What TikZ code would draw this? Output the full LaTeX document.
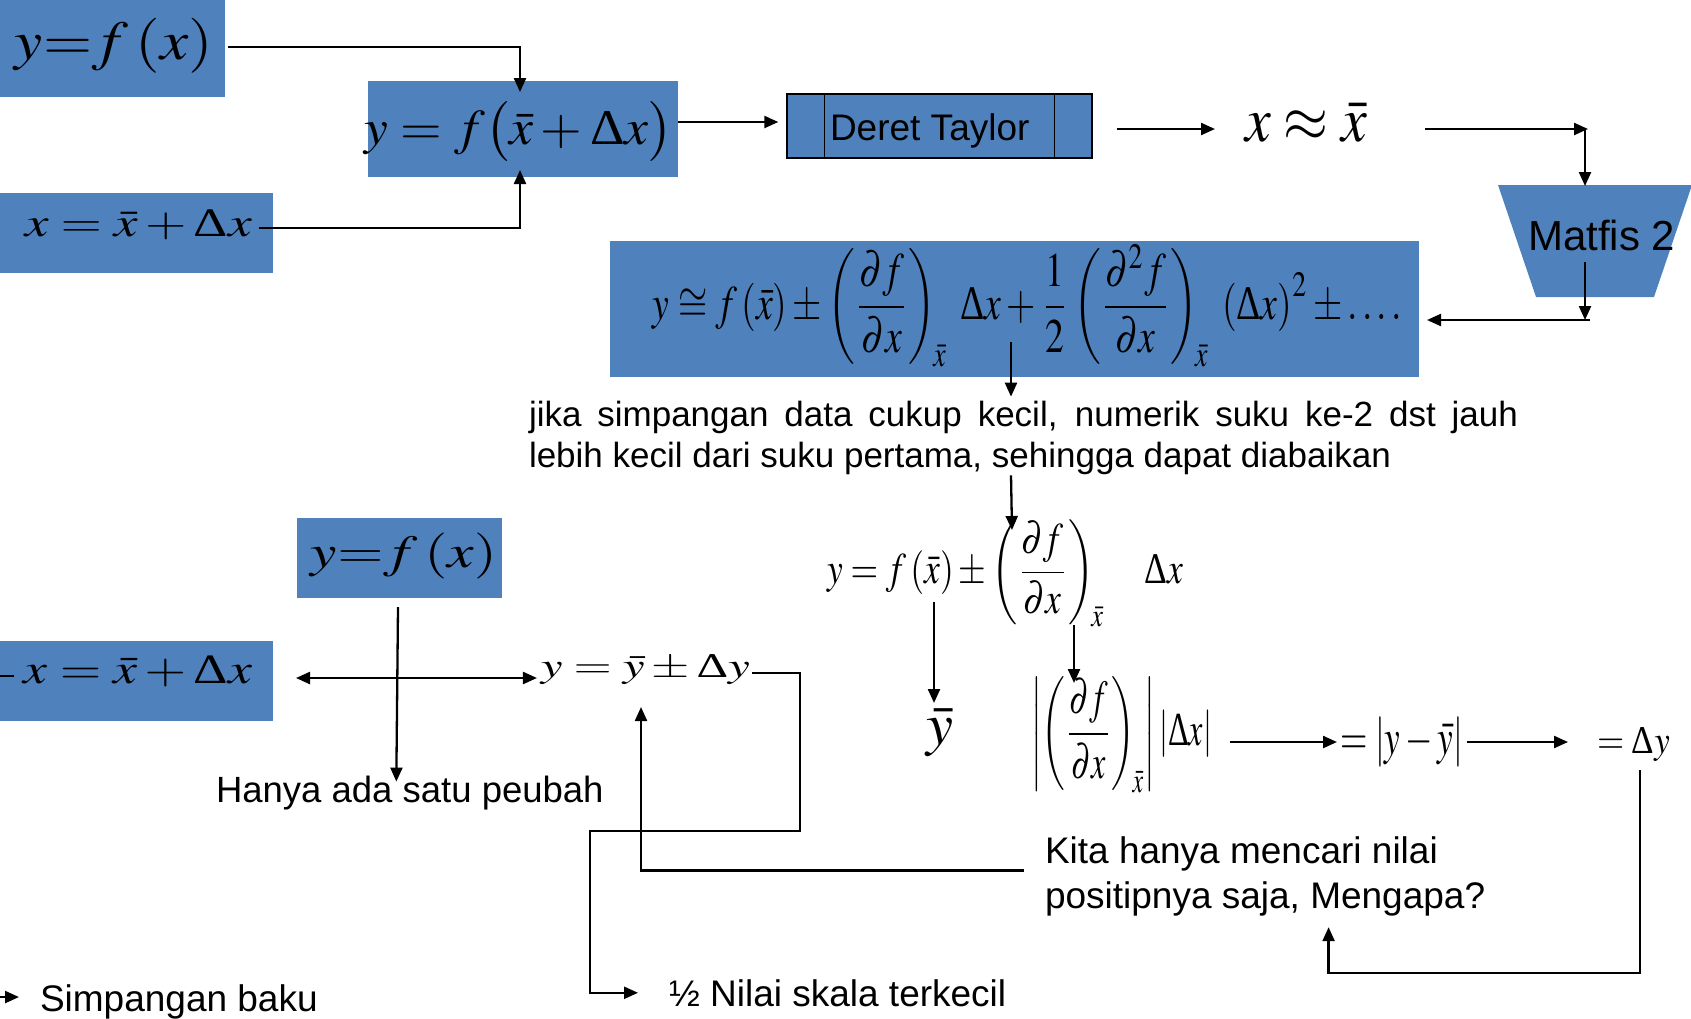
\documentclass[tikz,border=0pt]{standalone}
\usepackage{mathptmx}
\usepackage[no-math]{fontspec}
\setmainfont{Liberation Sans}
\newfontfamily\serifgr{Liberation Serif}
\usepackage{graphicx}
\usetikzlibrary{arrows.meta,calc}
\definecolor{boxblue}{RGB}{79,129,189}
% formula scaled to a given width and total height (in pt)
\newcommand{\eqfit}[3]{\resizebox*{#1pt}{#2pt}{$\displaystyle #3$}}
% a light upright capital delta
\newcommand{\Dlt}{\mathord{\mbox{\serifgr Δ}}}
\begin{document}
\begin{tikzpicture}[x=1pt,y=-1pt,
  bluebox/.style={fill=boxblue,draw=none,inner sep=0pt,outer sep=0pt},
  eq/.style={inner sep=0pt,outer sep=0pt},
  lbl/.style={inner sep=0pt,outer sep=0pt,anchor=base west,font=\fontsize{37}{45}\selectfont},
  conn/.style={line width=2.3pt,-{Triangle[length=14pt,width=12pt]}},
  conntwo/.style={line width=2.3pt,{Triangle[length=14pt,width=12pt]}-{Triangle[length=14pt,width=12pt]}},
  wire/.style={line width=2.3pt},
]
\useasboundingbox (0,0) rectangle (1691,1018);

% ---- blue boxes ----
\node[bluebox,minimum width=225pt,minimum height=97pt] (boxA) at (112.5,48.5) {};
\node[bluebox,minimum width=310pt,minimum height=96pt] (boxB) at (523,129) {};
\node[bluebox,minimum width=273pt,minimum height=80pt] (boxC) at (136.5,233) {};
\node[bluebox,minimum width=809pt,minimum height=136pt] (boxD) at (1014.5,309) {};
\node[bluebox,minimum width=205pt,minimum height=80pt] (boxF) at (399.5,558) {};
\node[bluebox,minimum width=273pt,minimum height=80pt] (boxG) at (136.5,681) {};

% Deret Taylor (predefined process)
\node[fill=boxblue,draw=black,line width=1.4pt,inner sep=0pt,minimum width=305pt,minimum height=64pt] (dt) at (939.5,126) {};
\draw[line width=1.4pt] ([xshift=38pt]dt.north west) -- ([xshift=38pt]dt.south west);
\draw[line width=1.4pt] ([xshift=-38pt]dt.north east) -- ([xshift=-38pt]dt.south east);
\node[lbl,font=\fontsize{37}{44}\selectfont] (dtlabel) at (830,140) {Deret Taylor};

% Matfis 2 (trapezium)
\fill[boxblue] (1498,185) -- (1692,185) -- (1654,297) -- (1536,297) -- cycle;
\node[lbl,font=\fontsize{42}{50}\selectfont] (matfis) at (1528,250) {Matfis 2};
\coordinate (turnA) at (1588,129);
\coordinate (mtop) at (1585,186);
\coordinate (mbot) at (1585,262);
\coordinate (turnB) at (1585,320);

% ---- formulas ----
\node[eq] (eqA) at (114,45.5) {\eqfit{198}{55}{y{=}f\,(x)}};
\node[eq] (eqB) at (519,132) {\eqfit{308}{60}{y = f\bigl(\bar{x} + \Dlt x\bigr)}};
\node[eq] (eqC) at (138.5,225) {\eqfit{227}{30}{x = \bar{x} + \Dlt x}};
\node[eq] (approx) at (1306,122.5) {\eqfit{122}{39}{x \approx \bar{x}}};
\node[eq] (eqD) at (1027.5,306) {\eqfit{749}{122}{y \cong f\left(\bar{x}\right)\pm\left(\frac{\partial f}{\partial x}\right)_{\!\bar{x}}\;\Dlt x+\frac{1}{2}\left(\frac{\partial^{2} f}{\partial x}\right)_{\!\bar{x}}\;\left(\Dlt x\right)^{2}\pm\ldots.}};
\node[eq] (eqE) at (1005,573.5) {\eqfit{356}{107}{y = f\left(\bar{x}\right) \pm \left(\frac{\partial f}{\partial x}\right)_{\!\bar{x}}\quad \Dlt x}};
\node[eq] (ybar) at (939.5,733) {\eqfit{27}{48}{\bar{y}}};
\node[eq] (abs) at (1121.5,735) {\eqfit{181}{116}{\left|\left(\frac{\partial f}{\partial x}\right)_{\!\bar{x}}\right|\left|\Dlt x\right|}};
\node[eq] (absY) at (1401.5,742) {\eqfit{123}{50}{=\left|y-\bar{y}\right|}};
\node[eq] (dy) at (1633.5,745) {\eqfit{73}{34}{=\Dlt y}};
\node[eq] (yb) at (645.5,670) {\eqfit{209}{30}{y = \bar{y} \pm \Dlt y}};
\node[eq] (eqF) at (404,556) {\eqfit{186}{46}{y{=}f\,(x)}};
\node[eq] (eqG) at (138,671.5) {\eqfit{228}{31}{x = \bar{x} + \Dlt x}};

% ---- texts ----
\node[lbl,font=\fontsize{35}{41}\selectfont,align=left] (jika) at (529,467)
  {\makebox[989pt][s]{jika simpangan data cukup kecil, numerik suku ke-2 dst jauh}\\lebih kecil dari suku pertama, sehingga dapat diabaikan};
\node[lbl,font=\fontsize{36.5}{44}\selectfont] (hanya) at (216,802) {Hanya ada satu peubah};
\node[lbl,align=left] (kita) at (1045,908.5) {Kita hanya mencari nilai\\positipnya saja, Mengapa?};
\node[lbl] (half) at (669,1006) {½ Nilai skala terkecil};
\node[lbl] (simp) at (40,1011) {Simpangan baku};

% ---- connectors ----
\draw[conn] ([xshift=3pt,yshift=1.5pt]boxA.east) -| ([xshift=-3pt,yshift=-11pt]boxB.north);
\draw[conn] ([xshift=7pt,yshift=-3pt]eqC.east) -| ([xshift=-3pt,yshift=7pt]boxB.south);
\draw[conn] ([yshift=7pt]boxB.east) -- ([xshift=-8pt,yshift=4pt]dt.west);
\draw[conn] ([xshift=24pt,yshift=-3pt]dt.east) -- ([xshift=-30pt,yshift=-6.5pt]approx.west);
\draw[conn] ([xshift=58pt,yshift=-6.5pt]approx.east) -- (turnA);
\draw[conn] ([xshift=-3pt]turnA) -- (mtop);
\draw[conn] (mbot) -- (turnB);
\draw[conn] ([xshift=5pt]turnB) -- ([xshift=8pt,yshift=-11pt]boxD.east);
\draw[conn] ([xshift=-3.5pt,yshift=35pt]boxD.south) -- ([xshift=-12.5pt,yshift=4pt]jika.north);
\draw[conn] ([xshift=-12.5pt,yshift=-1pt]jika.south) -- ([xshift=7pt,yshift=-10pt]eqE.north);
\draw[conn] ([xshift=-71pt,yshift=-28.5pt]eqE.center) -- ([xshift=-5.5pt,yshift=6pt]ybar.north);
\draw[conn] ([xshift=69pt,yshift=2pt]eqE.south) -- ([xshift=-47.5pt,yshift=-6pt]abs.north);
\draw[conn] ([xshift=18pt,yshift=-7pt]abs.east) -- ([xshift=-3pt]absY.west);
\draw[conn] ([xshift=4pt]absY.east) -- ([xshift=-29pt,yshift=3pt]dy.west);
\draw[conn] ([xshift=6.5pt,yshift=-8pt]dy.south) -- ++(0,203) -| ([xshift=63.5pt,yshift=-11pt]kita.south);
\draw[conn] ([xshift=-21pt,yshift=6pt]kita.west) -| ([xshift=-4.5pt,yshift=-22pt]yb.south);
\draw[conn] ([xshift=2pt,yshift=-3pt]yb.east) -- ++(48,0) -- ++(0,158) -- ++(-210,0) |- ([xshift=-31pt]half.west);
\draw[conn] ([xshift=-1.5pt,yshift=-9pt]boxF.south) -- ([xshift=-13.5pt,yshift=-6pt]hanya.north);
\draw[conntwo] ([xshift=23pt,yshift=3pt]boxG.east) -- ([xshift=-4pt,yshift=-8pt]yb.west);
\draw[wire] ([yshift=5pt]boxG.west) -- ++(14,0);
\draw[conn] ([xshift=-40pt,yshift=4.4pt]simp.west) -- ([xshift=-21pt,yshift=4.4pt]simp.west);
\end{tikzpicture}
\end{document}
